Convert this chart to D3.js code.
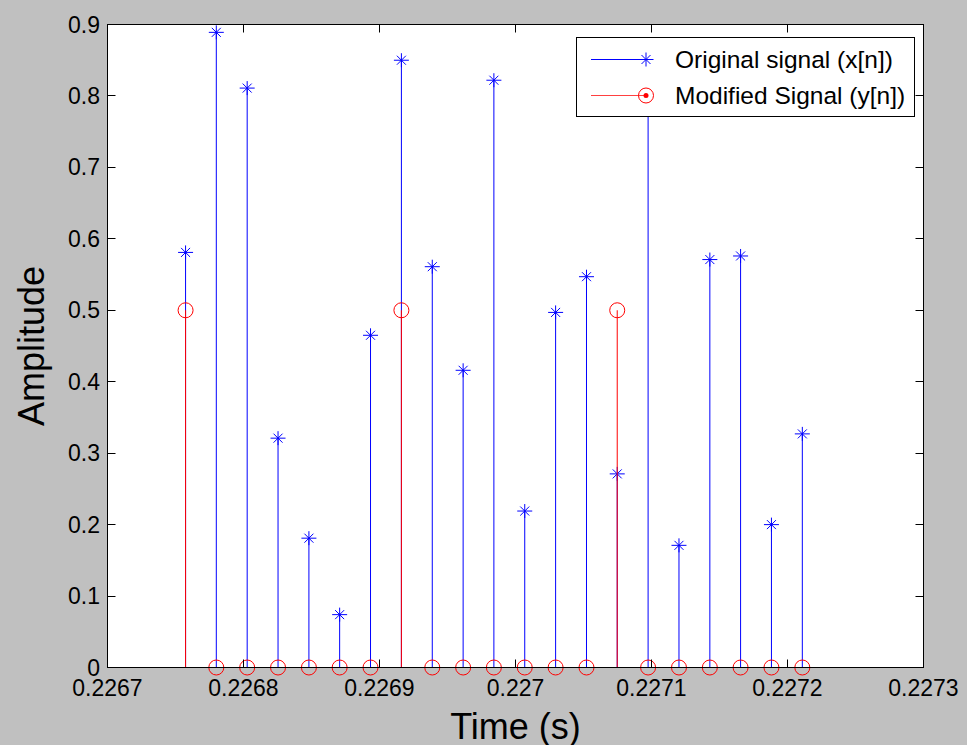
<!DOCTYPE html>
<html>
<head>
<meta charset="utf-8">
<script src="https://cdn.jsdelivr.net/npm/d3@7"></script>
<style>
  body { margin: 0; background: #c0c0c0; }
  svg { display: block; }
  text { font-family: "Liberation Sans", Arial, Helvetica, sans-serif; fill: #000; }
</style>
</head>
<body>
<svg id="chart" width="967" height="745"></svg>
<script>
var times = [0.2267574, 0.2267800, 0.2268027, 0.2268254, 0.2268481, 0.2268707, 0.2268934,
             0.2269161, 0.2269388, 0.2269615, 0.2269841, 0.2270068, 0.2270295, 0.2270522,
             0.2270748, 0.2270975, 0.2271202, 0.2271429, 0.2271655, 0.2271882, 0.2272109];

// original signal x[n]
var xValues = [0.581, 0.889, 0.811, 0.321, 0.181, 0.074, 0.465,
               0.850, 0.561, 0.416, 0.822, 0.219, 0.497, 0.547,
               0.271, 0.86, 0.171, 0.571, 0.576, 0.200, 0.327];

// modified signal y[n]
var yValues = [0.5, 0, 0, 0, 0, 0, 0,
               0.5, 0, 0, 0, 0, 0, 0,
               0.5, 0, 0, 0, 0, 0, 0];

var xTicks = [0.2267, 0.2268, 0.2269, 0.2270, 0.2271, 0.2272, 0.2273];
var xTickLabels = ["0.2267", "0.2268", "0.2269", "0.227", "0.2271", "0.2272", "0.2273"];
var yTicks = [0, 0.1, 0.2, 0.3, 0.4, 0.5, 0.6, 0.7, 0.8, 0.9];
var yTickLabels = ["0", "0.1", "0.2", "0.3", "0.4", "0.5", "0.6", "0.7", "0.8", "0.9"];

var seriesNames = ["Original signal (x[n])", "Modified Signal (y[n])"];

(function() {

    var svg = d3.select("#chart");

    var axLeft = 107.5, axRight = 923.5, axTop = 24.5, axBottom = 667.5;

    var x = d3.scaleLinear().domain([0.2267, 0.2273]).range([axLeft, axRight]);
    var y = d3.scaleLinear().domain([0, 0.9]).range([axBottom, axTop]);

    svg.append("rect")
        .attr("width", 967).attr("height", 745)
        .attr("fill", "#c0c0c0");

    // axes background
    svg.append("rect")
        .attr("x", axLeft).attr("y", axTop)
        .attr("width", axRight - axLeft).attr("height", axBottom - axTop)
        .attr("fill", "#fff");

    var plot = svg.append("g");

    /* star marker, like matlab's '*' */
    function star(g, cx, cy, color) {
        var segs = [[-7.5, 0, 7.5, 0], [0, -7, 0, 7], [-4.5, -4.5, 4.5, 4.5], [-4.5, 4.5, 4.5, -4.5]];
        segs.forEach(function(s) {
            g.append("line")
                .attr("x1", cx + s[0]).attr("y1", cy + s[1])
                .attr("x2", cx + s[2]).attr("y2", cy + s[3])
                .attr("stroke", color).attr("stroke-width", 1);
        });
    }

    var stemsX = times.map(function(t, i) { return { t: t, v: xValues[i] }; });
    var stemsY = times.map(function(t, i) { return { t: t, v: yValues[i] }; });

    // blue stems
    plot.selectAll("line.xstem")
        .data(stemsX)
        .enter().append("line")
        .attr("class", "xstem")
        .attr("x1", function(d) { return x(d.t); })
        .attr("x2", function(d) { return x(d.t); })
        .attr("y1", y(0))
        .attr("y2", function(d) { return y(d.v); })
        .attr("stroke", "#0000ff")
        .attr("stroke-width", 1);

    stemsX.forEach(function(d) {
        star(plot, x(d.t), y(d.v), "#0000ff");
    });

    // red stems
    plot.selectAll("line.ystem")
        .data(stemsY)
        .enter().append("line")
        .attr("class", "ystem")
        .attr("x1", function(d) { return x(d.t); })
        .attr("x2", function(d) { return x(d.t); })
        .attr("y1", y(0))
        .attr("y2", function(d) { return y(d.v); })
        .attr("stroke", "#ff0000")
        .attr("stroke-width", 1);

    plot.selectAll("circle.ymark")
        .data(stemsY)
        .enter().append("circle")
        .attr("class", "ymark")
        .attr("cx", function(d) { return x(d.t); })
        .attr("cy", function(d) { return y(d.v); })
        .attr("r", 7.5)
        .attr("fill", "none")
        .attr("stroke", "#ff0000")
        .attr("stroke-width", 1);

    // box
    svg.append("rect")
        .attr("x", axLeft).attr("y", axTop)
        .attr("width", axRight - axLeft).attr("height", axBottom - axTop)
        .attr("fill", "none")
        .attr("stroke", "#000")
        .attr("stroke-width", 1);

    // ticks inward on all four sides
    var tickLen = 8;
    var ticks = svg.append("g").attr("stroke", "#000").attr("stroke-width", 1);
    xTicks.forEach(function(t) {
        var px = Math.round(x(t) - 0.5) + 0.5;
        ticks.append("line").attr("x1", px).attr("x2", px).attr("y1", axBottom).attr("y2", axBottom - tickLen);
        ticks.append("line").attr("x1", px).attr("x2", px).attr("y1", axTop).attr("y2", axTop + tickLen);
    });
    yTicks.forEach(function(t) {
        var py = Math.round(y(t) - 0.5) + 0.5;
        ticks.append("line").attr("x1", axLeft).attr("x2", axLeft + tickLen).attr("y1", py).attr("y2", py);
        ticks.append("line").attr("x1", axRight).attr("x2", axRight - tickLen).attr("y1", py).attr("y2", py);
    });

    // tick labels
    svg.selectAll("text.xlab")
        .data(xTicks)
        .enter().append("text")
        .attr("class", "xlab")
        .attr("x", function(d) { return x(d); })
        .attr("y", 696)
        .attr("text-anchor", "middle")
        .style("font-size", "23px")
        .text(function(d, i) { return xTickLabels[i]; });

    svg.selectAll("text.ylab")
        .data(yTicks)
        .enter().append("text")
        .attr("class", "ylab")
        .attr("x", 100)
        .attr("y", function(d) { return y(d) + 8; })
        .attr("text-anchor", "end")
        .style("font-size", "23px")
        .text(function(d, i) { return yTickLabels[i]; });

    // axis titles
    svg.append("text")
        .attr("x", (axLeft + axRight) / 2)
        .attr("y", 739)
        .attr("text-anchor", "middle")
        .style("font-size", "36px")
        .text("Time (s)");

    svg.append("text")
        .attr("transform", "translate(44," + ((axTop + axBottom) / 2) + ") rotate(-90)")
        .attr("text-anchor", "middle")
        .style("font-size", "36px")
        .text("Amplitude");

    // legend
    var legend = svg.append("g");
    legend.append("rect")
        .attr("x", 576.5).attr("y", 37.5)
        .attr("width", 338).attr("height", 79)
        .attr("fill", "#fff")
        .attr("stroke", "#000")
        .attr("stroke-width", 1);

    var rowY = [59.5, 95.5];
    legend.append("line")
        .attr("x1", 591).attr("x2", 646).attr("y1", rowY[0]).attr("y2", rowY[0])
        .attr("stroke", "#0000ff");
    star(legend, 646, rowY[0], "#0000ff");

    legend.append("line")
        .attr("x1", 591).attr("x2", 646).attr("y1", rowY[1]).attr("y2", rowY[1])
        .attr("stroke", "#ff4040");
    legend.append("circle")
        .attr("cx", 646).attr("cy", rowY[1]).attr("r", 7.5)
        .attr("fill", "none").attr("stroke", "#ff0000");
    legend.append("circle")
        .attr("cx", 646).attr("cy", rowY[1]).attr("r", 2.5)
        .attr("fill", "#ff0000");

    legend.selectAll("text.leg")
        .data(seriesNames)
        .enter().append("text")
        .attr("class", "leg")
        .attr("x", 675)
        .attr("y", function(d, i) { return rowY[i] + 8.5; })
        .style("font-size", "24.5px")
        .text(function(d) { return d; });

})();
</script>
</body>
</html>
